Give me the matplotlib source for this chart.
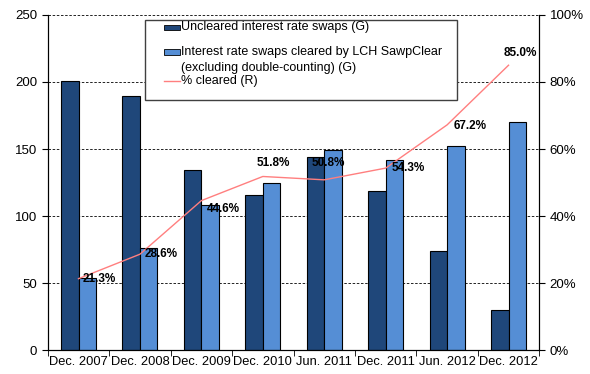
import numpy as np
import matplotlib.pyplot as plt
from matplotlib.patches import Rectangle
from matplotlib.lines import Line2D

plt.rcParams['font.family'] = ['Liberation Sans', 'DejaVu Sans']

# data
categories = ['Dec. 2007', 'Dec. 2008', 'Dec. 2009', 'Dec. 2010',
              'Jun. 2011', 'Dec. 2011', 'Jun. 2012', 'Dec. 2012']
uncleared = [201, 189.5, 134, 116, 144, 119, 74, 30]
cleared = [54, 76, 108, 125, 149, 141.5, 152.5, 170]
pct_cleared = [21.3, 28.6, 44.6, 51.8, 50.8, 54.3, 67.2, 85.0]
legend_labels = ['Uncleared interest rate swaps (G)',
                 'Interest rate swaps cleared by LCH SawpClear',
                 '(excluding double-counting) (G)',
                 '% cleared (R)']
# label offsets in points (dx, dy)
label_offsets = [(3, 0), (3.5, 0.5), (4, -6), (-4.5, 10), (-9, 12), (4, 0), (5, -1), (-3.5, 8.5)]

dark = '#1F477A'
light = '#558ED5'
red = '#FF7F7F'

W, H = 590, 374
fig = plt.figure(figsize=(W / 100, H / 100), dpi=100)
ax = fig.add_axes([0.081, 0.064, 0.833, 0.896])
ax2 = ax.twinx()

x = np.arange(len(categories))
w = 0.285
ax.bar(x - w / 2, uncleared, w, color=dark, edgecolor='black', linewidth=0.8, zorder=2)
ax.bar(x + w / 2, cleared, w, color=light, edgecolor='black', linewidth=0.8, zorder=2)

ax.set_xlim(-0.5, len(categories) - 0.5)
ax.set_ylim(0, 250)
ax.set_yticks([0, 50, 100, 150, 200, 250])
ax.grid(axis='y', color='black', linestyle=(0, (3, 2)), linewidth=0.6, zorder=0)
ax.set_axisbelow(True)
ax.set_xticks(x)
ax.set_xticklabels(categories, fontsize=9.3)
ax.set_xticks(np.arange(-0.5, len(categories)), minor=True)
ax.tick_params(axis='x', which='major', length=0, pad=4)
ax.tick_params(axis='x', which='minor', length=4, direction='out')
ax.tick_params(axis='y', labelsize=9.5, length=4, direction='out')

ax2.plot(x, pct_cleared, color=red, linewidth=1.0, zorder=3)
ax2.set_ylim(0, 100)
ax2.set_yticks([0, 20, 40, 60, 80, 100])
ax2.set_yticklabels([f'{v}%' for v in [0, 20, 40, 60, 80, 100]])
ax2.tick_params(axis='y', labelsize=9.5, length=4, direction='out')

for xi, v, (dx, dy) in zip(x, pct_cleared, label_offsets):
    ax2.annotate(f'{v:.1f}%', (xi, v), xytext=(dx, dy), textcoords='offset points',
                 ha='left', va='center', fontsize=8.5, fontweight='bold', color='black')

for a in (ax, ax2):
    a.spines['top'].set_visible(False)

# legend box drawn by hand (Excel-like uneven spacing)
def fx(px):
    return px / W

def fy(py):
    return 1 - py / H

tf = fig.transFigure
fig.patches.append(Rectangle((fx(145), fy(100)), fx(457) - fx(145), fy(20) - fy(100),
                             transform=tf, facecolor='white', edgecolor='#404040',
                             linewidth=1.0, zorder=10))
rows = [27, 52, 68, 81]
for py, col in zip(rows[:2], [dark, light]):
    fig.patches.append(Rectangle((fx(164), fy(py + 2.5)), fx(180) - fx(164), fy(py - 2.5) - fy(py + 2.5),
                                 transform=tf, facecolor=col, edgecolor='black',
                                 linewidth=0.6, zorder=11))
fig.lines.append(Line2D([fx(164), fx(180)], [fy(81), fy(81)], transform=tf,
                        color=red, linewidth=1.0, zorder=11))
for py, txt in zip(rows, legend_labels):
    fig.text(fx(181), fy(py), txt, fontsize=9, ha='left', va='center', zorder=12)

fig.savefig('out.png', dpi=100)
